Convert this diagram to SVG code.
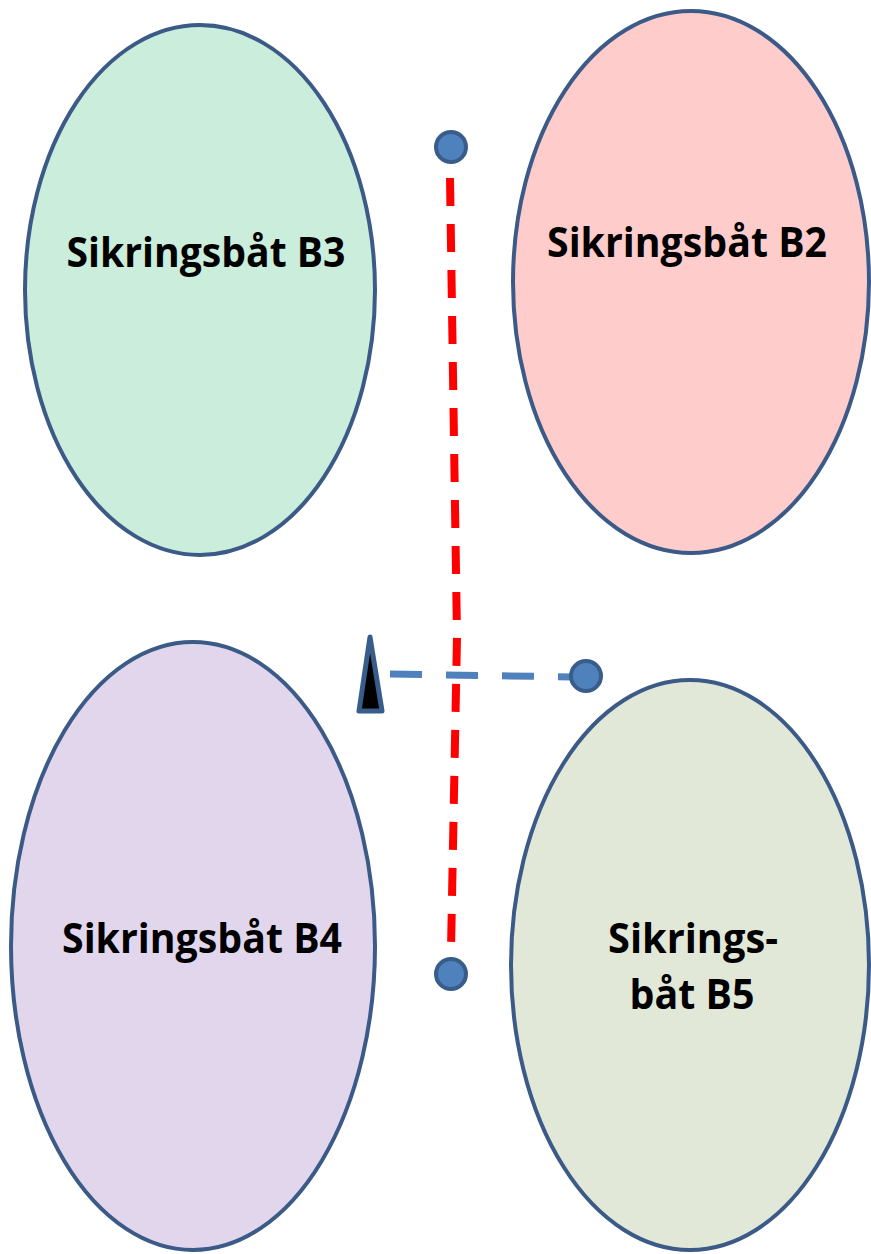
<svg xmlns="http://www.w3.org/2000/svg" width="871" height="1254" viewBox="0 0 871 1254">
<style>
.boat{stroke:#3B5A87;stroke-width:4}
.lbl{font-family:"Open Sans","Liberation Sans",Arial,sans-serif;font-weight:bold;font-size:41px;fill:#000;text-anchor:middle}
.dot{fill:#4F81BD;stroke:#385D8A;stroke-width:4}
</style>
<rect width="871" height="1254" fill="#fff"/>
<g id="b3"><ellipse class="boat" cx="200" cy="290" rx="175" ry="265" fill="#CBEDDB"/><text class="lbl" x="206" y="267" textLength="279" lengthAdjust="spacingAndGlyphs">Sikringsbåt B3</text></g>
<g id="b2"><ellipse class="boat" cx="691" cy="282" rx="178" ry="271" fill="#FFCCCC"/><text class="lbl" x="687" y="257" textLength="280" lengthAdjust="spacingAndGlyphs">Sikringsbåt B2</text></g>
<g id="b4"><ellipse class="boat" cx="193" cy="946" rx="182" ry="304" fill="#E2D6EC"/><text class="lbl" x="202" y="953" textLength="280" lengthAdjust="spacingAndGlyphs">Sikringsbåt B4</text></g>
<g id="b5"><ellipse class="boat" cx="690" cy="965" rx="179" ry="285" fill="#E1E8D8"/><text class="lbl" x="693" y="953" textLength="170" lengthAdjust="spacingAndGlyphs">Sikrings-</text><text class="lbl" x="692" y="1009" textLength="125" lengthAdjust="spacingAndGlyphs">båt B5</text></g>
<g id="connectors">
<polyline points="450,178 457,637 451,950" fill="none" stroke="#FF0000" stroke-width="8" stroke-dasharray="28,18"/>
<line x1="390" y1="674" x2="572" y2="677" stroke="#4F81BD" stroke-width="7" stroke-dasharray="32,24"/>
</g>
<g id="dot-top"><circle class="dot" cx="451" cy="147" r="15"/></g>
<g id="dot-bottom"><circle class="dot" cx="451" cy="974" r="15"/></g>
<g id="dot-right"><circle class="dot" cx="586" cy="676" r="15"/></g>
<g id="marker"><polygon points="370,637 359,711 382,711" fill="#000" stroke="#385D8A" stroke-width="5" stroke-linejoin="round"/></g>
</svg>
